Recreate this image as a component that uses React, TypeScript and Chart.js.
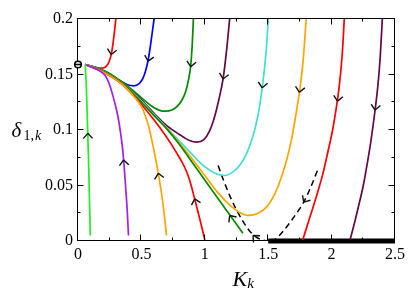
import React, { useEffect, useRef } from "react";
import { Chart, registerables } from "chart.js";

Chart.register(...registerables);

// ---- axis ticks ----
const xMajorTicks = [0, 0.5, 1, 1.5, 2, 2.5];
const xMinorTicks = [0.25, 0.75, 1.25, 1.75, 2.25];
const yMajorTicks = [0, 0.05, 0.1, 0.15, 0.2];
const yMinorTicks = [0.025, 0.075, 0.125, 0.175];
const xTickLabels = ["0", "0.5", "1", "1.5", "2", "2.5"];
const yTickLabels = ["0", "0.05", "0.1", "0.15", "0.2"];

// ---- trajectories [K_k, delta_1k] ----
const limeTraj = [[0.057, 0.159], [0.06, 0.152], [0.065, 0.142], [0.071, 0.12], [0.076, 0.1], [0.08, 0.085], [0.085, 0.065], [0.089, 0.045], [0.093, 0.025], [0.097, 0.005]];
const violetTraj = [[0.057, 0.159], [0.1, 0.157], [0.16, 0.154], [0.214, 0.149], [0.245, 0.142], [0.27, 0.133], [0.3, 0.12], [0.32, 0.109], [0.335, 0.098], [0.35, 0.085], [0.362, 0.07], [0.375, 0.05], [0.388, 0.028], [0.398, 0.005]];
const orangeLowTraj = [[0.057, 0.159], [0.15, 0.155], [0.25, 0.149], [0.35, 0.141], [0.42, 0.133], [0.5, 0.121], [0.53, 0.113], [0.555, 0.104], [0.58, 0.092], [0.607, 0.077], [0.633, 0.061], [0.66, 0.042], [0.68, 0.024], [0.698, 0.005]];
const redLowTraj = [[0.057, 0.159], [0.2, 0.152], [0.35, 0.141], [0.5, 0.123], [0.6, 0.109], [0.69, 0.095], [0.78, 0.079], [0.843, 0.066], [0.88, 0.055], [0.92, 0.038], [0.96, 0.02], [1.0, 0.001]];
const greenLowTraj = [[0.057, 0.159], [0.2, 0.153], [0.35, 0.142], [0.5, 0.125], [0.6, 0.113], [0.7, 0.101], [0.8, 0.087], [0.9, 0.071], [1.0, 0.055], [1.1, 0.039], [1.2, 0.023], [1.3, 0.007]];
const orangeUTraj = [[0.057, 0.159], [0.2, 0.153], [0.35, 0.142], [0.5, 0.125], [0.6, 0.113], [0.7, 0.1015], [0.8, 0.088], [0.9, 0.074], [1.0, 0.059], [1.1, 0.044], [1.2, 0.032], [1.27, 0.026], [1.35, 0.023], [1.42, 0.025], [1.49, 0.031], [1.55, 0.042], [1.6, 0.056], [1.65, 0.075], [1.69, 0.095], [1.72, 0.115], [1.75, 0.137], [1.775, 0.162], [1.8, 0.2]];
const cyanTraj = [[0.057, 0.159], [0.2, 0.153], [0.35, 0.142], [0.5, 0.126], [0.6, 0.114], [0.7, 0.102], [0.8, 0.09], [0.9, 0.078], [0.95, 0.072], [1.0, 0.067], [1.08, 0.061], [1.157, 0.059], [1.22, 0.062], [1.28, 0.069], [1.33, 0.079], [1.37, 0.091], [1.4, 0.103], [1.43, 0.12], [1.455, 0.14], [1.475, 0.16], [1.49, 0.18], [1.5, 0.2]];
const maroonTraj = [[0.057, 0.159], [0.2, 0.153], [0.35, 0.142], [0.5, 0.127], [0.6, 0.115], [0.7, 0.104], [0.8, 0.096], [0.88, 0.0905], [0.935, 0.089], [0.99, 0.091], [1.04, 0.0997], [1.08, 0.113], [1.11, 0.127], [1.144, 0.146], [1.17, 0.17], [1.196, 0.2]];
const greenUTraj = [[0.057, 0.159], [0.15, 0.156], [0.25, 0.151], [0.35, 0.143], [0.44, 0.135], [0.53, 0.126], [0.6, 0.12], [0.65, 0.1175], [0.69, 0.117], [0.74, 0.118], [0.78, 0.121], [0.82, 0.127], [0.85, 0.135], [0.873, 0.146], [0.889, 0.158], [0.9, 0.175], [0.91, 0.2]];
const blueTraj = [[0.057, 0.159], [0.15, 0.156], [0.25, 0.149], [0.33, 0.1445], [0.39, 0.1408], [0.44, 0.1398], [0.48, 0.1415], [0.51, 0.146], [0.535, 0.154], [0.555, 0.164], [0.575, 0.179], [0.6, 0.2]];
const redTopTraj = [[0.057, 0.159], [0.1, 0.1575], [0.15, 0.156], [0.19, 0.1557], [0.22, 0.157], [0.243, 0.161], [0.26, 0.167], [0.275, 0.177], [0.288, 0.189], [0.298, 0.2]];
const redRightTraj = [[1.772, 0.001], [1.825, 0.02], [1.877, 0.039], [1.93, 0.06], [1.97, 0.08], [2.008, 0.1], [2.03, 0.115], [2.05, 0.13], [2.07, 0.15], [2.085, 0.17], [2.1, 0.2]];
const maroonRightTraj = [[2.145, 0.001], [2.18, 0.016], [2.218, 0.034], [2.25, 0.05], [2.28, 0.069], [2.31, 0.09], [2.343, 0.118], [2.365, 0.14], [2.383, 0.165], [2.4, 0.2]];
const separatrixLeft = [[1.105, 0.068], [1.15, 0.054], [1.2, 0.04], [1.25, 0.028], [1.3, 0.018], [1.35, 0.0095], [1.4, 0.004], [1.45, 0.001], [1.5, 0]];
const separatrixRight = [[1.52, 0], [1.56, 0.002], [1.62, 0.009], [1.68, 0.018], [1.73, 0.026], [1.78, 0.035], [1.83, 0.047], [1.89, 0.064]];
const fixedLine = [[1.5, 0], [2.5, 0]];
const fixedPointK = [0];
const fixedPointDelta = [0.159];

const trajectories = [limeTraj, violetTraj, orangeLowTraj, redLowTraj, greenLowTraj, orangeUTraj, cyanTraj, maroonTraj, greenUTraj, blueTraj, redTopTraj, redRightTraj, maroonRightTraj, separatrixLeft, separatrixRight];
const trajColors = ["#22ee22", "#a020f0", "#ffa500", "#ff0000", "#008b00", "#ffa500", "#40e0d0", "#670748", "#008b00", "#0000ff", "#ff0000", "#ff0000", "#670748", "#000000", "#000000"];
const trajDashed = [false, false, false, false, false, false, false, false, false, false, false, false, false, true, true];

// ---- flow arrows (point toward the trajectory's first point) ----
const arrowK = [0.077, 0.36, 0.633, 0.92, 1.196, 1.746, 1.453, 1.144, 0.889, 0.553, 0.262, 2.047, 2.343, 1.38, 1.78];
const arrowDelta = [0.097, 0.073, 0.061, 0.038, 0.023, 0.134, 0.138, 0.146, 0.157, 0.162, 0.168, 0.126, 0.118, 0.005, 0.035];
const arrowTraj = [0, 1, 2, 3, 4, 5, 6, 7, 8, 9, 10, 11, 12, 13, 14];

const SERIF = "'Liberation Serif', 'Times New Roman', serif";

const decorPlugin = {
  id: "decor",
  afterDatasetsDraw(chart: any) {
    const ctx = chart.ctx as CanvasRenderingContext2D;
    const xs = chart.scales.x;
    const ys = chart.scales.y;
    const { left, right, top, bottom } = chart.chartArea;
    const L = left - 0.5, R = right - 0.5, T = top - 0.5, B = bottom - 0.5;
    ctx.save();
    ctx.strokeStyle = "#000";
    ctx.lineWidth = 1;
    ctx.strokeRect(L, T, R - L, B - T);
    ctx.beginPath();
    const xt = (v: number, len: number) => {
      const p = Math.round(xs.getPixelForValue(v)) - 0.5;
      ctx.moveTo(p, B); ctx.lineTo(p, B - len);
      ctx.moveTo(p, T); ctx.lineTo(p, T + len);
    };
    const yt = (v: number, len: number) => {
      const p = Math.round(ys.getPixelForValue(v)) - 0.5;
      ctx.moveTo(L, p); ctx.lineTo(L + len, p);
      ctx.moveTo(R, p); ctx.lineTo(R - len, p);
    };
    xMajorTicks.forEach((v) => xt(v, 6));
    xMinorTicks.forEach((v) => xt(v, 3));
    yMajorTicks.forEach((v) => yt(v, 6));
    yMinorTicks.forEach((v) => yt(v, 3));
    ctx.stroke();

    // arrows
    ctx.lineWidth = 1.4;
    ctx.strokeStyle = "#111";
    arrowK.forEach((k, i) => {
      const traj = trajectories[arrowTraj[i]];
      const px = xs.getPixelForValue(k);
      const py = ys.getPixelForValue(arrowDelta[i]);
      let best = Infinity, dx = 0, dy = -1;
      for (let j = 0; j < traj.length - 1; j++) {
        const ax = xs.getPixelForValue(traj[j][0]), ay = ys.getPixelForValue(traj[j][1]);
        const bx = xs.getPixelForValue(traj[j + 1][0]), by = ys.getPixelForValue(traj[j + 1][1]);
        const vx = bx - ax, vy = by - ay;
        const l2 = vx * vx + vy * vy || 1;
        let t = ((px - ax) * vx + (py - ay) * vy) / l2;
        t = Math.max(0, Math.min(1, t));
        const qx = ax + t * vx - px, qy = ay + t * vy - py;
        const d = qx * qx + qy * qy;
        if (d < best) { best = d; dx = ax - bx; dy = ay - by; }
      }
      const n = Math.hypot(dx, dy) || 1;
      dx /= n; dy /= n;
      const len = 7, ang = (42 * Math.PI) / 180;
      ctx.beginPath();
      for (const s of [-1, 1]) {
        const c = Math.cos(s * ang), sn = Math.sin(s * ang);
        const rx = -dx * c + dy * sn;
        const ry = -dx * sn - dy * c;
        ctx.moveTo(px + rx * len, py + ry * len);
        ctx.lineTo(px, py);
      }
      ctx.stroke();
    });

    // fixed point marker
    fixedPointK.forEach((k, i) => {
      const px = xs.getPixelForValue(k);
      const py = ys.getPixelForValue(fixedPointDelta[i]);
      ctx.lineWidth = 1.6;
      ctx.strokeStyle = "#000";
      ctx.fillStyle = "#fff";
      ctx.beginPath();
      ctx.arc(px, py, 3.3, 0, Math.PI * 2);
      ctx.fill();
      ctx.stroke();
      ctx.beginPath();
      ctx.moveTo(px - 3.3, py);
      ctx.lineTo(px + 3.3, py);
      ctx.stroke();
    });

    // axis titles
    ctx.fillStyle = "#000";
    ctx.textBaseline = "alphabetic";
    ctx.textAlign = "left";
    ctx.font = `italic 21px ${SERIF}`;
    ctx.fillText("δ", 11.5, 137);
    ctx.font = `14px ${SERIF}`;
    ctx.fillText("1,", 23.5, 140);
    const w1 = ctx.measureText("1,").width;
    ctx.font = `italic 14px ${SERIF}`;
    ctx.fillText("k", 23.5 + w1 + 1, 140);

    ctx.font = `italic 22px ${SERIF}`;
    ctx.fillText("K", 232.5, 285.7);
    const wK = ctx.measureText("K").width;
    ctx.font = `italic 15px ${SERIF}`;
    ctx.fillText("k", 232.5 + wK, 287.5);
    ctx.restore();
  },
};

export default function App() {
  const ref = useRef<HTMLCanvasElement | null>(null);
  useEffect(() => {
    if (!ref.current) return;
    const datasets: any[] = trajectories.map((traj, i) => ({
      data: traj.map(([x, y]) => ({ x, y })),
      borderColor: trajColors[i],
      borderWidth: trajDashed[i] ? 1.5 : 1.7,
      borderDash: trajDashed[i] ? [6, 4] : [],
      showLine: true,
      pointRadius: 0,
      cubicInterpolationMode: "monotone",
      fill: false,
    }));
    datasets.push({
      data: fixedLine.map(([x, y]) => ({ x, y })),
      borderColor: "#000",
      borderWidth: 5,
      showLine: true,
      pointRadius: 0,
      tension: 0,
      clip: false,
    });
    const chart = new Chart(ref.current, {
      type: "scatter",
      data: { datasets },
      plugins: [decorPlugin],
      options: {
        animation: false,
        responsive: false,
        devicePixelRatio: 1,
        layout: { padding: { left: 0, right: 13, top: 19, bottom: 0 } },
        plugins: { legend: { display: false }, tooltip: { enabled: false } },
        scales: {
          x: {
            type: "linear",
            min: 0,
            max: 2.5,
            afterFit: (s: any) => { s.height = 57; },
            afterBuildTicks: (s: any) => { s.ticks = xMajorTicks.map((v) => ({ value: v })); },
            grid: { display: false, drawTicks: false },
            border: { display: false },
            ticks: {
              padding: 4,
              color: "#000",
              font: { family: SERIF, size: 16 },
              maxRotation: 0,
              callback: (v: any) => { const i = xMajorTicks.indexOf(Number(v)); return i >= 0 ? xTickLabels[i] : ""; },
            },
          },
          y: {
            type: "linear",
            min: 0,
            max: 0.2,
            afterFit: (s: any) => { s.width = 78; },
            afterBuildTicks: (s: any) => { s.ticks = yMajorTicks.map((v) => ({ value: v })); },
            grid: { display: false, drawTicks: false },
            border: { display: false },
            ticks: {
              padding: 5,
              color: "#000",
              font: { family: SERIF, size: 16 },
              callback: (v: any) => { const i = yMajorTicks.findIndex((t) => Math.abs(t - Number(v)) < 1e-9); return i >= 0 ? yTickLabels[i] : ""; },
            },
          },
        },
      },
    });
    return () => chart.destroy();
  }, []);
  return (
    <div style={{ position: "fixed", left: 0, top: 0, width: 409, height: 298, background: "#fff" }}>
      <canvas ref={ref} width={409} height={298} style={{ width: 409, height: 298, display: "block" }} />
    </div>
  );
}
